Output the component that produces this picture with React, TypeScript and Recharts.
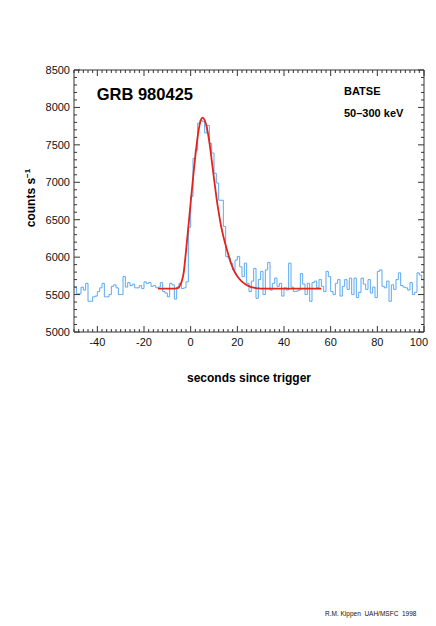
import React from "react";
import { LineChart, Line, XAxis, YAxis } from "recharts";

// ---- Data ----
const HIST_START = -50; // first bin start, seconds
const histCounts: number[] = [
  // -50 .. -41
  5600, 5510, 5510, 5600, 5560, 5650, 5410, 5410, 5470, 5480,
  // -40 .. -31
  5540, 5590, 5650, 5470, 5470, 5500, 5610, 5630, 5590, 5500,
  // -30 .. -21
  5500, 5740, 5600, 5660, 5620, 5640, 5590, 5590, 5620, 5580,
  // -20 .. -11
  5670, 5650, 5660, 5610, 5620, 5590, 5600, 5660, 5540, 5520,
  // -10 .. -1
  5470, 5650, 5630, 5440, 5600, 5650, 5580, 5590, 5670, 6400,
  // 0 .. 9
  6810, 7320, 7430, 7790, 7830, 7810, 7660, 7760, 7520, 7390,
  // 10 .. 19
  7120, 6990, 6760, 6760, 6410, 6010, 5990, 5920, 5830, 5960,
  // 20 .. 29
  6010, 5870, 5740, 5920, 5650, 5540, 5680, 5850, 5450, 5700,
  // 30 .. 39
  5810, 5500, 5830, 5930, 5560, 5650, 5720, 5610, 5650, 5480,
  // 40 .. 49
  5590, 5560, 5920, 5600, 5540, 5545, 5560, 5780, 5640, 5500,
  // 50 .. 59
  5650, 5410, 5660, 5680, 5590, 5700, 5610, 5540, 5810, 5740,
  // 60 .. 69
  5540, 5500, 5650, 5700, 5480, 5610, 5700, 5570, 5720, 5500,
  // 70 .. 79
  5720, 5460, 5530, 5720, 5640, 5570, 5700, 5520, 5600, 5460,
  // 80 .. 89
  5810, 5830, 5610, 5590, 5680, 5410, 5630, 5570, 5700, 5790,
  // 90 .. 99
  5620, 5600, 5590, 5560, 5660, 5500, 5530, 5790, 5760, 5700,
  // 100 (end of last bin)
  5700,
];

const FIT_START = -14;
const fitCounts: number[] = [
  // -14 .. -5
  5580, 5580, 5580, 5580, 5580, 5580, 5580, 5580, 5582, 5600,
  // -4 .. 5
  5660, 5790, 6080, 6400, 6730, 7050, 7350, 7610, 7790, 7865,
  // 6 .. 15
  7830, 7720, 7540, 7300, 7050, 6810, 6600, 6420, 6280, 6160,
  // 16 .. 25
  6050, 5945, 5860, 5795, 5745, 5705, 5672, 5648, 5628, 5612,
  // 26 .. 35
  5600, 5592, 5586, 5583, 5580, 5580, 5580, 5580, 5580, 5580,
  // 36 .. 45
  5580, 5580, 5580, 5580, 5580, 5580, 5580, 5580, 5580, 5580,
  // 46 .. 56
  5580, 5580, 5580, 5580, 5580, 5580, 5580, 5580, 5580, 5580, 5580,
];

const X_DOMAIN: [number, number] = [-50, 100];
const Y_DOMAIN: [number, number] = [5000, 8500];
const xTicks: number[] = [];
for (let v = -50; v <= 100; v += 2) xTicks.push(v);
const yTicks: number[] = [];
for (let v = 5000; v <= 8500; v += 100) yTicks.push(v);

const histData = histCounts.map((c, i) => ({ t: HIST_START + i, c }));
const fitData = fitCounts.map((c, i) => ({ t: FIT_START + i, c }));

// ---- Styles ----
const FONT = "'Liberation Sans', Arial, Helvetica, sans-serif";
const AXIS = "#333";
const BLUE = "#5aa9f0";
const RED = "#e3241b";

const isMajorX = (v: number) => Math.abs(v % 20) === 0;
const isMajorY = (v: number) => Math.abs(v % 500) === 0;

const BottomTick = (props: any) => {
  const { x, y, payload } = props;
  const major = isMajorX(payload.value);
  const last = payload.value === X_DOMAIN[1];
  return (
    <g>
      <line x1={x} x2={x} y1={y} y2={y - (major ? 6 : 3)} stroke={AXIS} strokeWidth={1} />
      {major && (
        <text
          x={last ? x + 4 : x}
          y={y + 13.5}
          textAnchor={last ? "end" : "middle"}
          fontSize={11}
          fontFamily={FONT}
          fill="#111"
        >
          {payload.value}
        </text>
      )}
    </g>
  );
};

const TopTick = (props: any) => {
  const { x, y, payload } = props;
  const major = isMajorX(payload.value);
  return <line x1={x} x2={x} y1={y} y2={y + (major ? 6 : 3)} stroke={AXIS} strokeWidth={1} />;
};

const LeftTick = (props: any) => {
  const { x, y, payload } = props;
  const major = isMajorY(payload.value);
  return (
    <g>
      <line x1={x} x2={x + (major ? 6 : 3)} y1={y} y2={y} stroke={AXIS} strokeWidth={1} />
      {major && (
        <text x={x - 4} y={y + 4} textAnchor="end" fontSize={11} fontFamily={FONT} fill="#111">
          {payload.value}
        </text>
      )}
    </g>
  );
};

const RightTick = (props: any) => {
  const { x, y, payload } = props;
  const major = isMajorY(payload.value);
  return <line x1={x} x2={x - (major ? 6 : 3)} y1={y} y2={y} stroke={AXIS} strokeWidth={1} />;
};

export default function App() {
  return (
    <div style={{ position: "relative", width: 420, height: 610, fontFamily: FONT }}>
      <style>{"html,body{overflow:hidden}"}</style>
      <LineChart width={420} height={380} margin={{ top: 61, right: 3, left: 0, bottom: 36 }}>
        <XAxis
          xAxisId="b"
          dataKey="t"
          type="number"
          domain={X_DOMAIN}
          ticks={xTicks}
          interval={0}
          tickSize={0}
          tickMargin={0}
          tick={<BottomTick />}
          axisLine={{ stroke: AXIS }}
          tickLine={false}
          height={20}
          allowDataOverflow
        />
        <XAxis
          xAxisId="t"
          orientation="top"
          dataKey="t"
          type="number"
          domain={X_DOMAIN}
          ticks={xTicks}
          interval={0}
          tickSize={0}
          tickMargin={0}
          tick={<TopTick />}
          axisLine={{ stroke: AXIS }}
          tickLine={false}
          height={1}
          allowDataOverflow
        />
        <YAxis
          yAxisId="l"
          type="number"
          domain={Y_DOMAIN}
          ticks={yTicks}
          interval={0}
          tickSize={0}
          tickMargin={0}
          tick={<LeftTick />}
          axisLine={{ stroke: AXIS }}
          tickLine={false}
          width={66}
          allowDataOverflow
        />
        <YAxis
          yAxisId="r"
          orientation="right"
          type="number"
          domain={Y_DOMAIN}
          ticks={yTicks}
          interval={0}
          tickSize={0}
          tickMargin={0}
          tick={<RightTick />}
          axisLine={{ stroke: AXIS }}
          tickLine={false}
          width={1}
          allowDataOverflow
        />
        {/* invisible series that binds the top and right frame axes */}
        <Line
          xAxisId="t"
          yAxisId="r"
          data={histData}
          dataKey="c"
          stroke="none"
          dot={false}
          activeDot={false}
          legendType="none"
          isAnimationActive={false}
        />
        <Line
          xAxisId="b"
          yAxisId="l"
          data={histData}
          dataKey="c"
          type="stepAfter"
          stroke={BLUE}
          strokeWidth={1}
          dot={false}
          activeDot={false}
          isAnimationActive={false}
        />
        <Line
          xAxisId="b"
          yAxisId="l"
          data={fitData}
          dataKey="c"
          type="monotone"
          stroke={RED}
          strokeWidth={1.8}
          dot={false}
          activeDot={false}
          isAnimationActive={false}
        />
      </LineChart>
      <svg
        width={420}
        height={610}
        style={{ position: "absolute", left: 0, top: 0, pointerEvents: "none" }}
      >
        <text x={88.7} y={92} fontSize={16.5} fontWeight="bold" fontFamily={FONT} fill="#000">
          GRB 980425
        </text>
        <text x={336} y={87} fontSize={11} fontWeight="bold" fontFamily={FONT} fill="#000">
          BATSE
        </text>
        <text x={336} y={109.3} fontSize={11} fontWeight="bold" fontFamily={FONT} fill="#000">
          50–300 keV
        </text>
        <text x={241} y={373.7} textAnchor="middle" fontSize={12} fontWeight="bold" fontFamily={FONT} fill="#000">
          seconds since trigger
        </text>
        <text
          transform="translate(27,190) rotate(-90)"
          textAnchor="middle"
          fontSize={12}
          fontWeight="bold"
          fontFamily={FONT}
          fill="#000"
        >
          counts s
          <tspan dy={-5} fontSize={8}>
            −1
          </tspan>
        </text>
        <text x={317} y={608} fontSize={6.5} fontFamily={FONT} fill="#111" style={{ whiteSpace: "pre" }}>
          {"R.M. Kippen  UAH/MSFC  1998"}
        </text>
      </svg>
    </div>
  );
}
